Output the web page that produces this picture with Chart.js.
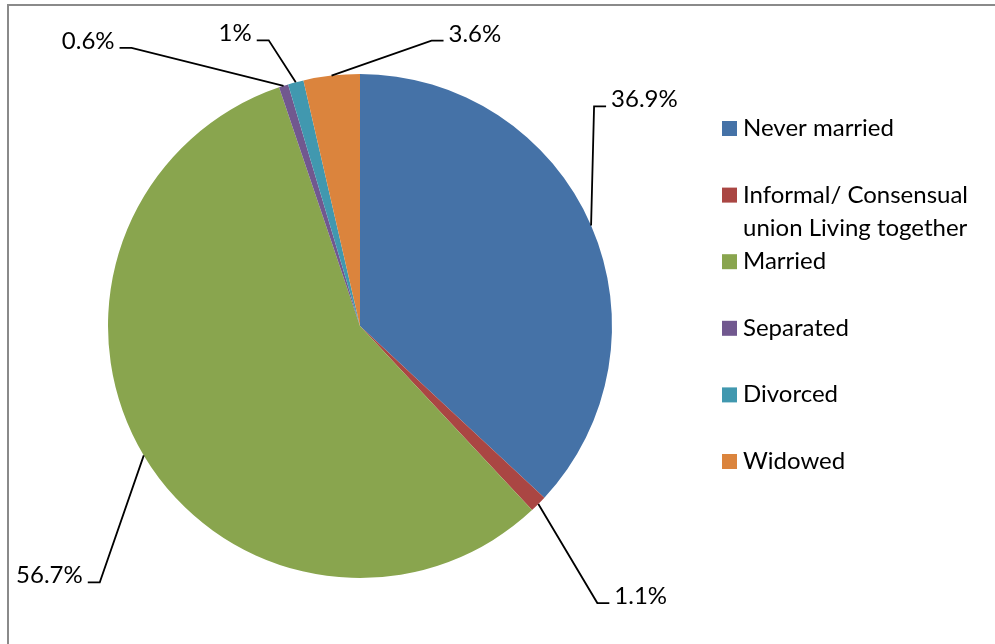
<!DOCTYPE html>
<html>
<head>
<meta charset="utf-8">
<title>Marital status</title>
<script src="https://cdn.jsdelivr.net/npm/chart.js@4/dist/chart.umd.min.js"></script>
<style>
  html, body { margin: 0; padding: 0; background: #fff; }
  #wrap { position: relative; width: 995px; height: 644px; overflow: hidden; }
  #frame {
    position: absolute; left: 7px; top: 4px; width: 1100px; height: 800px;
    border-top: 2px solid #8a8a8a; border-left: 2px solid #8a8a8a;
    pointer-events: none;
  }
  canvas { position: absolute; left: 0; top: 0; }
</style>
</head>
<body>
<div id="wrap">
  <canvas id="pie" width="995" height="644"></canvas>
  <div id="frame"></div>
</div>
<script>
const categories = [
  'Never married',
  'Informal/ Consensual\nunion Living together',
  'Married',
  'Separated',
  'Divorced',
  'Widowed'
]
const shares = [36.9, 1.1, 56.7, 0.6, 1, 3.6]
const sliceColors = ['#4572A7', '#AA4643', '#89A54E', '#71588F', '#4198AF', '#DB843D']

const FONT = '24px Lato, "Open Sans", sans-serif'

// Leader lines: elbow offset from the slice edge, then a short horizontal tail
const leaderOffsets = [[3, -119], [59, 99], [-44, 127], [-152, -38], [-27, -42], [100, -35]]

const pieLabels = {
  id: 'pieLabels',
  afterDatasetsDraw(chart) {
    const ctx = chart.ctx
    const meta = chart.getDatasetMeta(0)
    ctx.save()
    ctx.font = FONT
    ctx.fillStyle = '#000'
    ctx.strokeStyle = '#000'
    ctx.lineWidth = 1.8
    ctx.textBaseline = 'alphabetic'
    meta.data.forEach((arc, i) => {
      const p = arc.getProps(['x', 'y', 'startAngle', 'endAngle', 'outerRadius'], true)
      const mid = (p.startAngle + p.endAngle) / 2
      const sx = p.x + Math.cos(mid) * p.outerRadius
      const sy = p.y + Math.sin(mid) * p.outerRadius
      const [dx, dy] = leaderOffsets[i]
      const ex = sx + dx
      const ey = sy + dy
      const dir = dx >= 0 ? 1 : -1
      const tx = ex + dir * 12
      ctx.beginPath()
      ctx.moveTo(sx, sy)
      ctx.lineTo(ex, ey)
      ctx.lineTo(tx, ey)
      ctx.stroke()
      const text = shares[i] + '%'
      ctx.textAlign = dir > 0 ? 'left' : 'right'
      ctx.fillText(text, tx + dir * 5, ey + 1)
    })
    ctx.restore()
  }
}

// Legend drawn by hand so the long label can break over two lines
const sideLegend = {
  id: 'sideLegend',
  afterDraw(chart) {
    const ctx = chart.ctx
    const colors = chart.data.datasets[0].backgroundColor
    ctx.save()
    ctx.font = FONT
    ctx.textAlign = 'left'
    ctx.textBaseline = 'alphabetic'
    chart.data.labels.forEach((label, i) => {
      const base = 136 + i * 66.6
      ctx.fillStyle = colors[i]
      ctx.fillRect(722, base - 15, 15, 15)
      ctx.fillStyle = '#000'
      label.split('\n').forEach((line, j) => {
        ctx.fillText(line, 743, base + j * 33)
      })
    })
    ctx.restore()
  }
}

new Chart(document.getElementById('pie'), {
  type: 'pie',
  data: {
    labels: categories,
    datasets: [{
      data: shares,
      backgroundColor: sliceColors,
      borderWidth: 0
    }]
  },
  options: {
    responsive: false,
    animation: false,
    layout: {
      padding: { left: 108, right: 383, top: 74, bottom: 66 }
    },
    plugins: {
      legend: { display: false },
      tooltip: { enabled: false }
    }
  },
  plugins: [pieLabels, sideLegend]
})
</script>
</body>
</html>
